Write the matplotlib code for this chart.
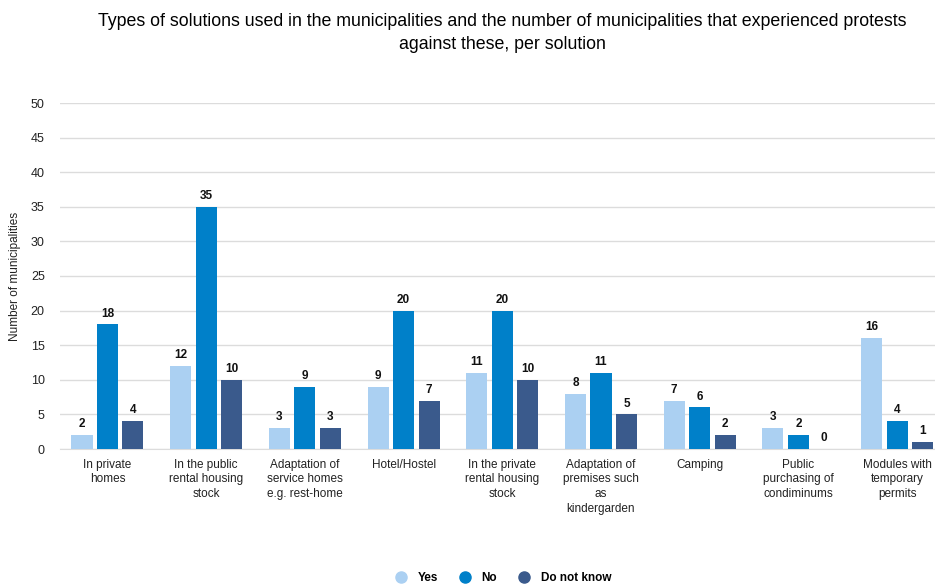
import numpy as np
import matplotlib.pyplot as plt
from matplotlib import font_manager

# categories and counts per answer
categories = [
    "In private\nhomes",
    "In the public\nrental housing\nstock",
    "Adaptation of\nservice homes\ne.g. rest-home",
    "Hotel/Hostel",
    "In the private\nrental housing\nstock",
    "Adaptation of\npremises such\nas\nkindergarden",
    "Camping",
    "Public\npurchasing of\ncondiminums",
    "Modules with\ntemporary\npermits",
]
yes = [2, 12, 3, 9, 11, 8, 7, 3, 16]
no = [18, 35, 9, 20, 20, 11, 6, 2, 4]
dont_know = [4, 10, 3, 7, 10, 5, 2, 0, 1]

series = [("Yes", yes, "#abd0f2"), ("No", no, "#0080c9"), ("Do not know", dont_know, "#3a5a8c")]

plt.rcParams['font.family'] = ['Liberation Sans', 'DejaVu Sans']

# condensed face for the title if available
names = {f.name for f in font_manager.fontManager.ttflist}
if "Liberation Sans Narrow" in names:
    title_font, title_size = "Liberation Sans Narrow", 15.5
else:
    title_font, title_size = "Liberation Sans", 12.8

fig = plt.figure(figsize=(9.35, 5.85), dpi=100)
ax = fig.add_axes([60 / 935, 136 / 585, 875 / 935, 346 / 585])

x = np.arange(len(categories))
width = 0.213
step = 0.258

for i, (name, vals, col) in enumerate(series):
    pos = x + (i - 1) * step
    ax.bar(pos, vals, width, color=col, label=name, zorder=3)
    for xp, v in zip(pos, vals):
        ax.text(xp, v + 0.7, str(v), ha="center", va="bottom",
                fontsize=8.5, fontweight="bold", color="#111111", zorder=4)

ax.set_xlim(-0.481, 8.384)
ax.set_ylim(0, 50)
ax.set_yticks(range(0, 51, 5))
ax.set_xticks(x)
ax.set_xticklabels(categories, fontsize=8.5, linespacing=1.3, color="#222222")
ax.tick_params(axis="y", labelsize=9, labelcolor="#222222", length=0, pad=11)
ax.tick_params(axis="x", length=0, pad=7)
ax.grid(axis="y", color="#dcdcdc", linewidth=1, zorder=0)
for s in ["top", "right", "left"]:
    ax.spines[s].set_visible(False)
ax.spines["bottom"].set_color("#dcdcdc")
ax.set_ylabel("Number of municipalities", fontsize=8.5, color="#222222", labelpad=7)

fig.text(0.537, 0.978,
         "Types of solutions used in the municipalities and the number of municipalities that experienced protests\nagainst these, per solution",
         ha="center", va="top", fontsize=title_size,
         family=[title_font, "DejaVu Sans"], linespacing=1.45)

handles = [plt.Line2D([], [], marker="o", linestyle="", markersize=8,
                      markerfacecolor=c, markeredgecolor=c) for _, _, c in series]
fig.legend(handles, [s[0] for s in series], loc="center", bbox_to_anchor=(0.535, 0.012),
           ncol=3, frameon=False, handletextpad=0.4, columnspacing=1.3,
           prop={"size": 8.5, "weight": "bold"})

fig.savefig("out.png", dpi=100)
